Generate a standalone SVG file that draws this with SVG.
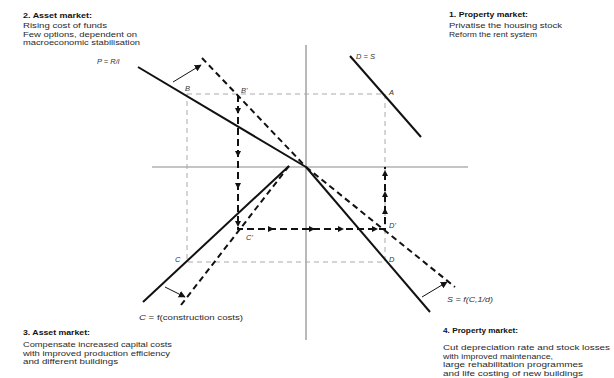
<svg xmlns="http://www.w3.org/2000/svg" width="614" height="378" viewBox="0 0 614 378">
<style>
.bg{fill:#fff}
.axis{stroke:#8a8a8a;stroke-width:1.2;fill:none}
.guide{stroke:#aaa;stroke-width:1;stroke-dasharray:5,4;fill:none}
.solid{stroke:#111;stroke-width:2;fill:none}
.dash{stroke:#111;stroke-width:2;stroke-dasharray:6,4;fill:none}
.path{stroke:#111;stroke-width:2;stroke-dasharray:7,4;fill:none}
.shift{stroke:#111;stroke-width:1;fill:none}
.txt{font-family:"Liberation Sans",Arial,sans-serif;font-size:8px;fill:#2a2a2a}
.hd{font-weight:bold;fill:#111}
.lbl{font-family:"Liberation Sans",Arial,sans-serif;font-size:7.5px;font-style:italic;fill:#333}
.ah{fill:#111}
</style>
<defs>
<marker id="arr" viewBox="0 0 10 10" refX="9" refY="5" markerWidth="7" markerHeight="7" markerUnits="userSpaceOnUse" orient="auto">
<path d="M0,0 L10,5 L0,10 z" fill="#111"/>
</marker>
<path id="tri" d="M0,0 L-6,-3 L-6,3 z"/>
</defs>
<rect class="bg" x="0" y="0" width="614" height="378"/>
<g id="axes">
<line class="axis" x1="306" y1="45" x2="306" y2="340"/>
<line class="axis" x1="152" y1="167" x2="468" y2="167"/>
</g>
<g id="connectors">
<path class="guide" d="M187,94 H385 V262 H187 Z"/>
<line class="solid" x1="138" y1="67" x2="306" y2="167"/>
<line class="dash" x1="202" y1="58" x2="306" y2="167"/>
<line class="solid" x1="306" y1="167" x2="430" y2="312"/>
<line class="dash" x1="306" y1="167" x2="455" y2="287"/>
<line class="solid" x1="143" y1="302" x2="289" y2="166"/>
<line class="dash" x1="181" y1="305" x2="289" y2="166"/>
<line class="solid" x1="350" y1="56" x2="421" y2="137"/>
<path class="path" d="M238,95 V229 H385 V167"/>
<g class="ah">
<use href="#tri" transform="translate(238,114) rotate(90)"/>
<use href="#tri" transform="translate(238,157) rotate(90)"/>
<use href="#tri" transform="translate(238,189) rotate(90)"/>
<use href="#tri" transform="translate(238,227) rotate(90)"/>
<use href="#tri" transform="translate(274,229)"/>
<use href="#tri" transform="translate(315,229)"/>
<use href="#tri" transform="translate(344,229)"/>
<use href="#tri" transform="translate(378,229)"/>
<use href="#tri" transform="translate(385,208) rotate(-90)"/>
<use href="#tri" transform="translate(385,191) rotate(-90)"/>
<use href="#tri" transform="translate(385,170) rotate(-90)"/>
</g>
<line class="shift" x1="173" y1="82" x2="201" y2="65" marker-end="url(#arr)"/>
<line class="shift" x1="165" y1="287" x2="185" y2="297" marker-end="url(#arr)"/>
<line class="shift" x1="422" y1="297" x2="447" y2="282" marker-end="url(#arr)"/>
</g>
<g id="labels">
<text class="lbl" x="97" y="64">P = R/i</text>
<text class="lbl" x="356" y="59">D = S</text>
<text class="lbl" x="389" y="95">A</text>
<text class="lbl" x="185" y="91">B</text>
<text class="lbl" x="241" y="93">B'</text>
<text class="lbl" x="175" y="262">C</text>
<text class="lbl" x="246" y="240">C'</text>
<text class="lbl" x="389" y="228">D'</text>
<text class="lbl" x="389" y="262">D</text>
<text class="lbl" x="447" y="302" textLength="46" lengthAdjust="spacingAndGlyphs">S = f(C,1/d)</text>
<text class="txt" x="139" y="320" textLength="104" lengthAdjust="spacingAndGlyphs"><tspan font-style="italic">C</tspan> = f(construction costs)</text>
</g>
<g id="note2">
<text class="txt hd" x="23" y="18" textLength="69" lengthAdjust="spacingAndGlyphs">2. Asset market:</text>
<text class="txt" x="23" y="28" textLength="84" lengthAdjust="spacingAndGlyphs">Rising cost of funds</text>
<text class="txt" x="23" y="36.5" textLength="114" lengthAdjust="spacingAndGlyphs">Few options, dependent on</text>
<text class="txt" x="23" y="45" textLength="117" lengthAdjust="spacingAndGlyphs">macroeconomic stabilisation</text>
</g>
<g id="note1">
<text class="txt hd" x="449" y="16.5" textLength="79" lengthAdjust="spacingAndGlyphs">1. Property market:</text>
<text class="txt" x="449" y="28" textLength="113" lengthAdjust="spacingAndGlyphs">Privatise the housing stock</text>
<text class="txt" x="449" y="36.5" textLength="88" lengthAdjust="spacingAndGlyphs">Reform the rent system</text>
</g>
<g id="note3">
<text class="txt hd" x="23" y="335" textLength="67" lengthAdjust="spacingAndGlyphs">3. Asset market:</text>
<text class="txt" x="23" y="347" textLength="149" lengthAdjust="spacingAndGlyphs">Compensate increased capital costs</text>
<text class="txt" x="23" y="355.5" textLength="147" lengthAdjust="spacingAndGlyphs">with improved production efficiency</text>
<text class="txt" x="23" y="364" textLength="95" lengthAdjust="spacingAndGlyphs">and different buildings</text>
</g>
<g id="note4">
<text class="txt hd" x="443" y="333" textLength="75" lengthAdjust="spacingAndGlyphs">4. Property market:</text>
<text class="txt" x="443" y="350" textLength="167" lengthAdjust="spacingAndGlyphs">Cut depreciation rate and stock losses</text>
<text class="txt" x="443" y="358.5" textLength="110" lengthAdjust="spacingAndGlyphs">with improved maintenance,</text>
<text class="txt" x="443" y="367" textLength="140" lengthAdjust="spacingAndGlyphs">large rehabilitation programmes</text>
<text class="txt" x="443" y="375.5" textLength="140" lengthAdjust="spacingAndGlyphs">and life costing of new buildings</text>
</g>
</svg>
